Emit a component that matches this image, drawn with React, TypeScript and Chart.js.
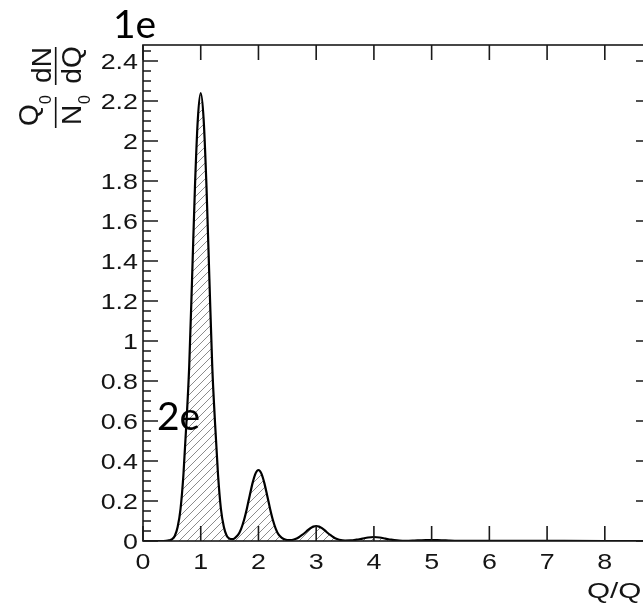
import { useEffect, useRef } from "react";
import { Chart, registerables } from "chart.js";

Chart.register(...registerables);

// ---- data ----
const Q_OVER_Q0 = [
  0, 0.3, 0.4, 0.45, 0.5, 0.55, 0.6, 0.65, 0.7, 0.75,
  0.8, 0.85, 0.9, 0.95, 1.0, 1.05, 1.1, 1.15, 1.2, 1.25,
  1.3, 1.35, 1.4, 1.45, 1.5, 1.55, 1.6, 1.65, 1.7, 1.75,
  1.8, 1.85, 1.9, 1.95, 2.0, 2.05, 2.1, 2.15, 2.2, 2.25,
  2.3, 2.35, 2.4, 2.45, 2.5, 2.55, 2.6, 2.65, 2.7, 2.75,
  2.8, 2.85, 2.9, 2.95, 3.0, 3.05, 3.1, 3.15, 3.2, 3.25,
  3.3, 3.35, 3.4, 3.5, 3.6, 3.7, 3.8, 3.9, 4.0, 4.1,
  4.2, 4.3, 4.4, 4.5, 4.6, 4.7, 4.8, 4.9, 5.0, 5.1,
  5.2, 5.3, 5.4, 5.6, 6.0, 6.4, 7.0, 8.0, 8.8,
];
const DENSITY = [
  0, 0, 0.001, 0.003, 0.008, 0.025, 0.07, 0.16, 0.33, 0.58,
  0.87, 1.31, 1.77, 2.11, 2.24, 2.11, 1.77, 1.31, 0.87, 0.58,
  0.33, 0.16, 0.071, 0.026, 0.011, 0.009, 0.017, 0.032, 0.061, 0.105,
  0.163, 0.229, 0.292, 0.338, 0.355, 0.338, 0.292, 0.229, 0.163, 0.105,
  0.061, 0.032, 0.017, 0.009, 0.005, 0.0045, 0.0064, 0.011, 0.019, 0.029,
  0.04, 0.053, 0.064, 0.072, 0.075, 0.072, 0.064, 0.053, 0.04, 0.029,
  0.019, 0.011, 0.0064, 0.0025, 0.0027, 0.0065, 0.0121, 0.0176, 0.02, 0.0176,
  0.0121, 0.0065, 0.0027, 0.0013, 0.001, 0.002, 0.0033, 0.0045, 0.005, 0.0045,
  0.0033, 0.002, 0.001, 0.0006, 0.0012, 0.0004, 0.0002, 0, 0,
];

const X_TICKS = [0, 1, 2, 3, 4, 5, 6, 7, 8];
const X_TICK_LABELS = ["0", "1", "2", "3", "4", "5", "6", "7", "8"];
const Y_TICKS = [0, 0.2, 0.4, 0.6, 0.8, 1, 1.2, 1.4, 1.6, 1.8, 2, 2.2, 2.4];
const Y_TICK_LABELS = ["0", "0.2", "0.4", "0.6", "0.8", "1", "1.2", "1.4", "1.6", "1.8", "2", "2.2", "2.4"];
const Y_MINOR_OFFSETS = [0.05, 0.1, 0.15];
const X_RANGE = [0, 8.8];
const Y_RANGE = [0, 2.48];

const X_TITLE = "Q/Q";
const X_TITLE_SUB = "0";
const ANNOT_1 = "1e";
const ANNOT_2 = "2e";

const TICK_FONT = '22px "Liberation Sans", Arial, sans-serif';
const STRETCH = 1.22;

function makeHatch(): CanvasPattern | string {
  const c = document.createElement("canvas");
  const s = 8;
  c.width = s;
  c.height = s;
  const g = c.getContext("2d");
  if (!g) return "rgba(0,0,0,0.2)";
  g.strokeStyle = "#8c8c8c";
  g.lineWidth = 1;
  g.beginPath();
  g.moveTo(-1, s + 1);
  g.lineTo(s + 1, -1);
  g.moveTo(-1, 1);
  g.lineTo(1, -1);
  g.moveTo(s - 1, s + 1);
  g.lineTo(s + 1, s - 1);
  g.stroke();
  const p = g.createPattern(c, "repeat");
  return p || "rgba(0,0,0,0.2)";
}

function stretched(ctx: CanvasRenderingContext2D, text: string, x: number, y: number, align: CanvasTextAlign, sx = STRETCH) {
  ctx.save();
  ctx.translate(x, y);
  ctx.scale(sx, 1);
  ctx.textAlign = align;
  ctx.textBaseline = "alphabetic";
  ctx.fillText(text, 0, 0);
  ctx.restore();
}

function rotText(ctx: CanvasRenderingContext2D, text: string, baseX: number, centerY: number, font: string) {
  ctx.save();
  ctx.translate(baseX, centerY);
  ctx.rotate(-Math.PI / 2);
  ctx.font = font;
  ctx.textAlign = "center";
  ctx.textBaseline = "alphabetic";
  ctx.fillText(text, 0, 0);
  ctx.restore();
}

const rootStyle = {
  id: "rootStyle",
  afterDraw(chart: any) {
    const { ctx, chartArea: a } = chart;
    const xs = chart.scales.x;
    const ys = chart.scales.y;
    const MAJOR = 15;
    const MINOR = 8;
    ctx.save();
    ctx.strokeStyle = "#1a1a1a";
    ctx.lineWidth = 1.6;
    ctx.strokeRect(a.left, a.top, a.right - a.left, a.bottom - a.top);

    ctx.beginPath();
    Y_TICKS.forEach((v) => {
      const p = ys.getPixelForValue(v);
      ctx.moveTo(a.left, p);
      ctx.lineTo(a.left + MAJOR, p);
      ctx.moveTo(a.right, p);
      ctx.lineTo(a.right - MAJOR, p);
      Y_MINOR_OFFSETS.forEach((o) => {
        const mv = v + o;
        if (mv > Y_RANGE[1]) return;
        const mp = ys.getPixelForValue(mv);
        ctx.moveTo(a.left, mp);
        ctx.lineTo(a.left + MINOR, mp);
        ctx.moveTo(a.right, mp);
        ctx.lineTo(a.right - MINOR, mp);
      });
    });
    X_TICKS.forEach((v) => {
      const p = xs.getPixelForValue(v);
      ctx.moveTo(p, a.bottom);
      ctx.lineTo(p, a.bottom - MAJOR);
      ctx.moveTo(p, a.top);
      ctx.lineTo(p, a.top + MAJOR);
    });
    ctx.stroke();

    // tick labels
    ctx.fillStyle = "#151515";
    ctx.font = TICK_FONT;
    Y_TICKS.forEach((v, i) => {
      const p = ys.getPixelForValue(v);
      stretched(ctx, Y_TICK_LABELS[i], a.left - 5, p + 8, "right");
    });
    X_TICKS.forEach((v, i) => {
      const p = xs.getPixelForValue(v);
      stretched(ctx, X_TICK_LABELS[i], p, a.bottom + 27.5, "center");
    });

    // x title
    ctx.font = '22px "Liberation Sans", Arial, sans-serif';
    const tx = 587;
    stretched(ctx, X_TITLE, tx, a.bottom + 57, "left", 1.35);
    const w = ctx.measureText(X_TITLE).width * 1.35;
    ctx.font = '15px "Liberation Sans", Arial, sans-serif';
    stretched(ctx, X_TITLE_SUB, tx + w + 1, a.bottom + 63, "left", 1.35);

    // y title: (Q0 / N0) (dN / dQ), rotated
    const big = '28px "Liberation Sans", Arial, sans-serif';
    const small = '16px "Liberation Sans", Arial, sans-serif';
    rotText(ctx, "dN", 51, 65, big);
    rotText(ctx, "dQ", 81, 65, big);
    rotText(ctx, "Q", 38, 115, big);
    rotText(ctx, "0", 51, 99.5, small);
    rotText(ctx, "N", 81, 115, big);
    rotText(ctx, "0", 90, 99.5, small);
    ctx.lineWidth = 1.6;
    ctx.strokeStyle = "#111";
    ctx.beginPath();
    ctx.moveTo(55.7, 47);
    ctx.lineTo(55.7, 85);
    ctx.moveTo(55.7, 97);
    ctx.lineTo(55.7, 128);
    ctx.stroke();

    // annotations
    ctx.fillStyle = "#000";
    ctx.font = '39px Lato, "Open Sans", sans-serif';
    ctx.textAlign = "left";
    ctx.textBaseline = "alphabetic";
    ctx.fillText(ANNOT_1, 113, 38);
    ctx.fillText(ANNOT_2, 157, 430);
    ctx.restore();
  },
};

export default function App() {
  const ref = useRef<HTMLCanvasElement>(null);
  useEffect(() => {
    if (!ref.current) return;
    const points = Q_OVER_Q0.map((q, i) => ({ x: q, y: DENSITY[i] }));
    const chart = new Chart(ref.current, {
      type: "line",
      data: {
        datasets: [
          {
            data: points,
            borderColor: "#000",
            borderWidth: 2.2,
            pointRadius: 0,
            fill: "origin",
            backgroundColor: makeHatch() as any,
            cubicInterpolationMode: "monotone",
          },
        ],
      },
      options: {
        responsive: false,
        animation: false,
        layout: { padding: { top: 45, right: 9, left: 0, bottom: 0 } },
        plugins: { legend: { display: false }, tooltip: { enabled: false } },
        scales: {
          x: {
            type: "linear",
            min: X_RANGE[0],
            max: X_RANGE[1],
            grid: { display: false },
            border: { display: false },
            ticks: { display: false },
            afterBuildTicks: (s: any) => {
              s.ticks = X_TICKS.map((v) => ({ value: v }));
            },
            afterFit: (s: any) => {
              s.height = 74;
            },
          },
          y: {
            type: "linear",
            min: Y_RANGE[0],
            max: Y_RANGE[1],
            grid: { display: false },
            border: { display: false },
            ticks: { display: false },
            afterBuildTicks: (s: any) => {
              s.ticks = Y_TICKS.map((v) => ({ value: v }));
            },
            afterFit: (s: any) => {
              s.width = 143;
            },
          },
        },
      },
      plugins: [rootStyle],
    });
    return () => chart.destroy();
  }, []);
  return (
    <div
      style={{
        position: "absolute",
        left: 0,
        top: 0,
        width: 643,
        height: 615,
        overflow: "hidden",
        background: "#fff",
      }}
    >
      <canvas ref={ref} width={660} height={615} style={{ display: "block", width: 660, height: 615 }} />
    </div>
  );
}
